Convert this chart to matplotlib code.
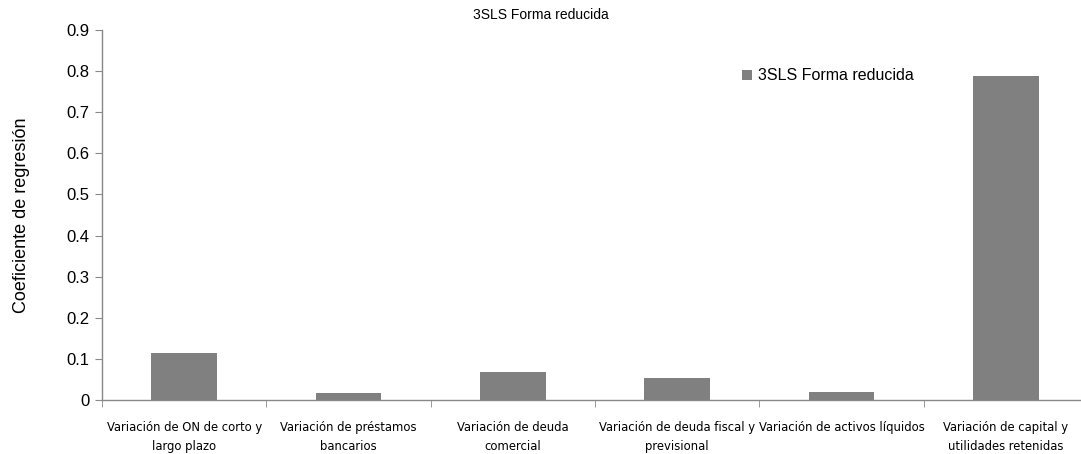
import matplotlib
matplotlib.use('Agg')
import matplotlib.pyplot as plt
import numpy as np
from matplotlib import font_manager

# Coefficients per variable
categories = [
    'Variación de ON de corto y\nlargo plazo',
    'Variación de préstamos\nbancarios',
    'Variación de deuda\ncomercial',
    'Variación de deuda fiscal y\nprevisional',
    'Variación de activos líquidos',
    'Variación de capital y\nutilidades retenidas',
]
coefs = [0.114, 0.017, 0.068, 0.054, 0.019, 0.788]
series_name = '3SLS Forma reducida'
y_ticks = [0, 0.1, 0.2, 0.3, 0.4, 0.5, 0.6, 0.7, 0.8, 0.9]
y_tick_labels = ['0', '0.1', '0.2', '0.3', '0.4', '0.5', '0.6', '0.7', '0.8', '0.9']

plt.rcParams['font.family'] = ['Liberation Sans', 'DejaVu Sans']

# look for a narrow face for the category labels
narrow_file = None
for f in font_manager.fontManager.ttflist:
    name = f.fname.lower()
    if ('narrow' in name or 'condensed' in name) and 'bold' not in name \
            and 'oblique' not in name and 'italic' not in name:
        if narrow_file is None or 'liberation' in name:
            narrow_file = f.fname
if narrow_file:
    cat_font = font_manager.FontProperties(fname=narrow_file, size=9.3)
else:
    cat_font = font_manager.FontProperties(family='Liberation Sans', size=8)

fig = plt.figure(figsize=(10.81, 4.54), dpi=100)
ax = fig.add_axes([102 / 1081, 54 / 454, 986 / 1081, 370 / 454])

x = np.arange(len(categories))
ax.bar(x, coefs, width=0.4, color='#808080', label=series_name, zorder=2)

ax.set_xlim(-0.5, len(categories) - 0.5)
ax.set_ylim(0, 0.9)
ax.set_yticks(y_ticks)
ax.set_yticklabels(y_tick_labels, fontsize=12)

ax.set_xticks(x)
ax.set_xticklabels(categories, linespacing=1.6)
for lbl in ax.get_xticklabels():
    lbl.set_fontproperties(cat_font)
ax.set_xticks(np.arange(-0.5, len(categories)), minor=True)
ax.tick_params(axis='x', which='major', length=0, pad=15)
ax.tick_params(axis='x', which='minor', length=5, color='#888888', direction='out')
ax.tick_params(axis='y', length=5, color='#888888', direction='out', pad=4)

for side in ('top', 'right'):
    ax.spines[side].set_visible(False)
for side in ('left', 'bottom'):
    ax.spines[side].set_color('#888888')
    ax.spines[side].set_linewidth(1)

ax.set_ylabel('Coeficiente de regresión', fontsize=13, labelpad=26)
fig.text(0.5, 0.968, series_name, ha='center', va='center', fontsize=10)

leg = ax.legend(loc='upper left', bbox_to_anchor=(0.635, 0.935), frameon=False,
                fontsize=11.5, handlelength=0.6, handleheight=0.6, handletextpad=0.4)

fig.savefig('out.png', dpi=100)
